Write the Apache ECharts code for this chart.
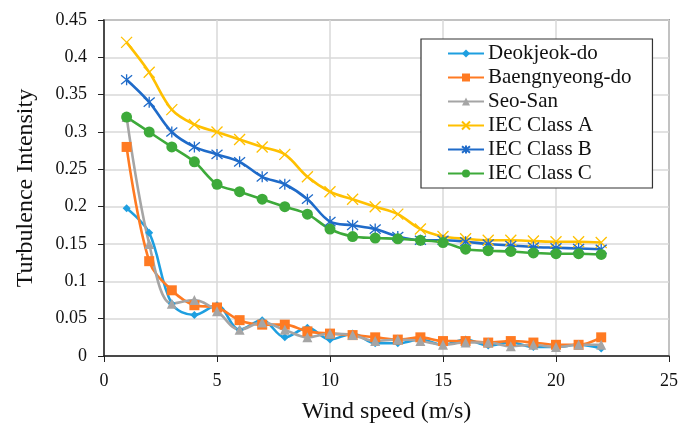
<!DOCTYPE html>
<html><head><meta charset="utf-8">
<script src="https://cdn.jsdelivr.net/npm/echarts@6/dist/echarts.min.js"></script>
<style>html,body{margin:0;padding:0;background:#fff}#c{width:681px;height:423px}</style>
</head><body><div id="c"></div>
<script>
const windSpeed = [1,2,3,4,5,6,7,8,9,10,11,12,13,14,15,16,17,18,19,20,21,22];
const deokjeok = [0.198,0.165,0.07,0.055,0.068,0.035,0.048,0.025,0.038,0.022,0.03,0.017,0.017,0.022,0.015,0.022,0.014,0.018,0.012,0.012,0.015,0.01];
const baengnyeong = [0.28,0.127,0.088,0.068,0.065,0.048,0.042,0.042,0.033,0.03,0.028,0.025,0.022,0.025,0.02,0.02,0.018,0.02,0.018,0.015,0.015,0.025];
const seoSan = [0.32,0.15,0.07,0.075,0.06,0.035,0.045,0.035,0.025,0.03,0.028,0.02,0.022,0.02,0.015,0.018,0.018,0.013,0.015,0.012,0.015,0.015];
const iecA = [0.42,0.38,0.33,0.31,0.30,0.29,0.28,0.27,0.24,0.22,0.21,0.20,0.19,0.17,0.16,0.157,0.155,0.155,0.154,0.153,0.153,0.152];
const iecB = [0.37,0.34,0.30,0.28,0.27,0.26,0.24,0.23,0.21,0.18,0.175,0.17,0.16,0.155,0.155,0.153,0.15,0.148,0.146,0.145,0.144,0.143];
const iecC = [0.32,0.30,0.28,0.26,0.23,0.22,0.21,0.20,0.19,0.17,0.16,0.158,0.157,0.155,0.152,0.143,0.141,0.140,0.138,0.137,0.137,0.136];
const seriesNames = ['Deokjeok-do','Baengnyeong-do','Seo-San','IEC Class A','IEC Class B','IEC Class C'];
const xTitle = 'Wind speed (m/s)';
const yTitle = 'Turbulence Intensity';

const font = '"Liberation Serif","DejaVu Serif",serif';
const pair = arr => windSpeed.map((x,i)=>[x,arr[i]]);
const xPath = 'path://M0,0L10,10M10,0L0,10';
const starPath = 'path://M0,0L10,10M10,0L0,10M5,-1L5,11';
function mk(name, data, color, symbol, size, stroke){
  return {
    name, type:'line', data:pair(data), smooth:0.35, symbol, symbolSize:size,
    lineStyle:{color, width:2.6},
    itemStyle: stroke ? {color:'rgba(0,0,0,0)', borderColor:color, borderWidth:1.3} : {color, borderWidth:0},
    emphasis:{disabled:true}, z: 2
  };
}
const chart = echarts.init(document.getElementById('c'));
chart.setOption({
  animation:false,
  backgroundColor:'#fff',
  grid:{left:104,right:12,top:20,bottom:67,containLabel:false,outerBoundsMode:'none',show:true,borderColor:'#555',borderWidth:1.5,backgroundColor:'transparent'},
  xAxis:{type:'value',min:0,max:25,interval:5,
    name:xTitle,nameLocation:'middle',nameGap:44,nameTextStyle:{fontFamily:font,fontSize:24,color:'#111'},
    axisLine:{lineStyle:{color:'#222',width:1.5}},axisTick:{show:true,length:6,lineStyle:{color:'#222'}},
    axisLabel:{fontFamily:font,fontSize:18,color:'#111',margin:16},
    splitLine:{show:true,lineStyle:{color:'#d9d9d9',width:1.5}}},
  yAxis:{type:'value',min:0,max:0.45,interval:0.05,
    name:yTitle,nameLocation:'middle',nameGap:66,nameTextStyle:{fontFamily:font,fontSize:24,color:'#111'},
    axisLine:{show:true,lineStyle:{color:'#222',width:1.5}},axisTick:{show:true,length:6,lineStyle:{color:'#222'}},
    axisLabel:{fontFamily:font,fontSize:18,color:'#111',margin:17,formatter:v=>String(+v.toFixed(2))},
    splitLine:{show:true,lineStyle:{color:'#d9d9d9',width:1.5}}},
  legend:{orient:'vertical',left:421,top:39,
    padding:[4,21,4,26],itemGap:3,itemWidth:36,itemHeight:10,
    backgroundColor:'#fff',borderColor:'#333',borderWidth:1.2,
    textStyle:{fontFamily:font,fontSize:21,lineHeight:21,color:'#111',padding:[0,0,0,-1]},
    data:seriesNames},
  series:[
    mk(seriesNames[0],deokjeok,'#1E9FE0','diamond',8),
    mk(seriesNames[1],baengnyeong,'#FF7A22','rect',10),
    mk(seriesNames[2],seoSan,'#A5A5A5','triangle',10),
    mk(seriesNames[3],iecA,'#FFC000',xPath,11,true),
    mk(seriesNames[4],iecB,'#1F6BC9',starPath,11,true),
    mk(seriesNames[5],iecC,'#3DAA3A','circle',11)
  ]
});
</script></body></html>
